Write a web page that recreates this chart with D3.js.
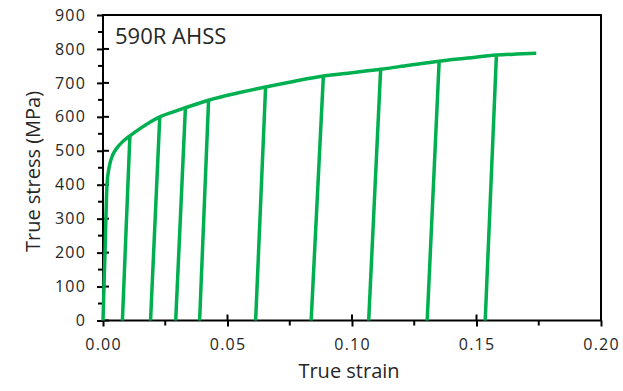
<!DOCTYPE html>
<html>
<head>
<meta charset="utf-8">
<script src="https://cdn.jsdelivr.net/npm/d3@7"></script>
<style>
  body { margin: 0; background: #fff; }
  text { font-family: "Open Sans", sans-serif; fill: #262626; }
</style>
</head>
<body>
<div id="chart"></div>
<script>

// monotonic flow curve (true strain, true stress MPa)
var flowStrain = [0, 0.0008, 0.0016, 0.0022, 0.0029, 0.0038, 0.0048, 0.0060, 0.0075, 0.0090,
                  0.0108, 0.0150, 0.0190, 0.0228, 0.0280, 0.0331, 0.0424, 0.0540, 0.0653,
                  0.0770, 0.0885, 0.1000, 0.1115, 0.1230, 0.1350, 0.1465, 0.1580, 0.1660, 0.1740];
var flowStress = [0, 200, 400, 440, 466, 486, 500, 512, 524, 534,
                  544, 566, 585, 600, 614, 627, 649, 670, 688,
                  705, 720, 730, 740, 752, 764, 773, 782, 785, 787];

// unloading branches: start on the curve, end at zero stress
var unloadTopStrain  = [0.0108, 0.0228, 0.0331, 0.0424, 0.0653, 0.0885, 0.1115, 0.1350, 0.1580];
var unloadTopStress  = [544, 600, 627, 649, 688, 720, 740, 764, 782];
var unloadZeroStrain = [0.0078, 0.0191, 0.0292, 0.0388, 0.0613, 0.0836, 0.1067, 0.1302, 0.1535];

var xTicks = [0, 0.05, 0.10, 0.15, 0.20];
var xMinor = [0.025, 0.075, 0.125, 0.175];
var yTicks = [0, 100, 200, 300, 400, 500, 600, 700, 800, 900];
var yMinor = [50, 150, 250, 350, 450, 550, 650, 750, 850];

var label = "590R AHSS";
var xTitle = "True strain";
var yTitle = "True stress (MPa)";

// ------- setup -------

var W = 623, H = 391;
var green = "#00B050";

var svg = d3.select("#chart").append("svg")
  .attr("width", W).attr("height", H);

var x = d3.scaleLinear().domain([0, 0.2]).range([103, 601]);
var y = d3.scaleLinear().domain([0, 900]).range([320.5, 15]);

// ------- axes -------

var xAxis = d3.axisBottom(x).tickValues(xTicks).tickSize(6).tickPadding(12)
  .tickFormat(d3.format(".2f"));
var yAxis = d3.axisLeft(y).tickValues(yTicks).tickSize(6).tickPadding(11)
  .tickFormat(d3.format("d"));

var gx = svg.append("g").attr("transform", "translate(0," + y(0) + ")").call(xAxis);
var gy = svg.append("g").attr("transform", "translate(" + x(0) + ",0)").call(yAxis);

[gx, gy].forEach(function(g){
  g.select(".domain").remove();
  g.selectAll(".tick line").attr("stroke", "#000").attr("stroke-width", 2);
  g.selectAll(".tick text")
    .style("font-family", '"Open Sans", sans-serif')
    .style("font-size", "16px")
    .style("letter-spacing", "1.2px")
    .attr("fill", "#262626");
});

// major ticks cross the axis line
svg.append("g").selectAll("line").data(xTicks).enter().append("line")
  .attr("x1", function(d){ return x(d) }).attr("x2", function(d){ return x(d) })
  .attr("y1", y(0) - 6).attr("y2", y(0))
  .attr("stroke", "#000").attr("stroke-width", 2);
svg.append("g").selectAll("line").data(yTicks).enter().append("line")
  .attr("x1", x(0)).attr("x2", x(0) + 6)
  .attr("y1", function(d){ return y(d) }).attr("y2", function(d){ return y(d) })
  .attr("stroke", "#000").attr("stroke-width", 2);

// minor ticks, outside only
svg.append("g").selectAll("line").data(xMinor).enter().append("line")
  .attr("x1", function(d){ return x(d) }).attr("x2", function(d){ return x(d) })
  .attr("y1", y(0)).attr("y2", y(0) + 5)
  .attr("stroke", "#000").attr("stroke-width", 2);
svg.append("g").selectAll("line").data(yMinor).enter().append("line")
  .attr("x1", x(0) - 5).attr("x2", x(0))
  .attr("y1", function(d){ return y(d) }).attr("y2", function(d){ return y(d) })
  .attr("stroke", "#000").attr("stroke-width", 2);

// plot box
svg.append("rect")
  .attr("x", x(0)).attr("y", y(900))
  .attr("width", x(0.2) - x(0)).attr("height", y(0) - y(900))
  .attr("fill", "none").attr("stroke", "#000").attr("stroke-width", 2);

// ------- curves -------

var flow = flowStrain.map(function(d, i){ return [d, flowStress[i]] });
var line = d3.line()
  .x(function(d){ return x(d[0]) })
  .y(function(d){ return y(d[1]) })
  .curve(d3.curveMonotoneX);

svg.append("path").datum(flow)
  .attr("d", line)
  .attr("fill", "none").attr("stroke", green).attr("stroke-width", 3.5)
  .attr("stroke-linejoin", "round");

var unloads = unloadTopStrain.map(function(d, i){
  return [[unloadZeroStrain[i], 0], [d, unloadTopStress[i]]];
});
svg.append("g").selectAll("path").data(unloads).enter().append("path")
  .attr("d", d3.line().x(function(d){ return x(d[0]) }).y(function(d){ return y(d[1]) }))
  .attr("fill", "none").attr("stroke", green).attr("stroke-width", 3.5);

// ------- text -------

svg.append("text").text(label)
  .attr("x", 115).attr("y", 43.5)
  .style("font-size", "22px");

svg.append("text").text(xTitle)
  .attr("x", 349).attr("y", 377.5).attr("text-anchor", "middle")
  .style("font-size", "20px");

svg.append("text").text(yTitle)
  .attr("transform", "translate(40,171.5) rotate(-90)")
  .attr("text-anchor", "middle")
  .style("font-size", "20px");
</script>
</body>
</html>
